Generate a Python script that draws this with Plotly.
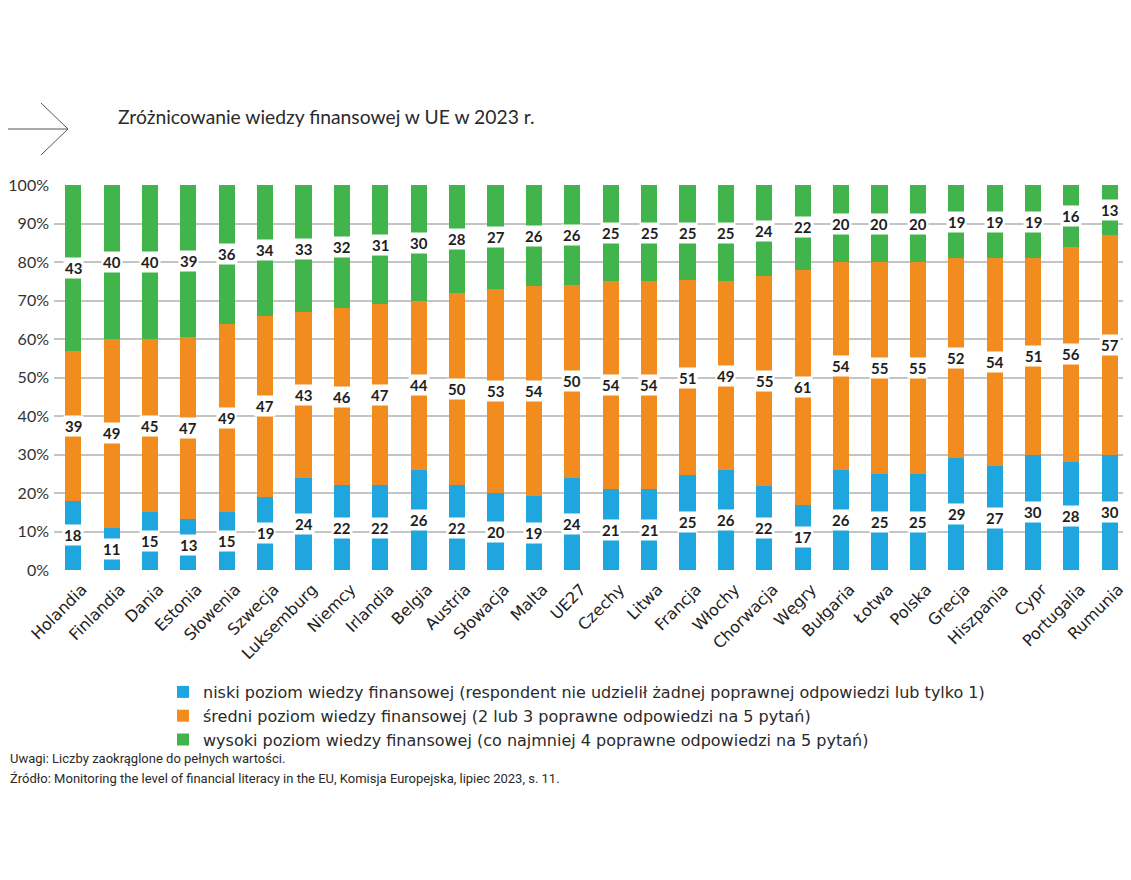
import plotly.graph_objects as go

countries = ["Holandia", "Finlandia", "Dania", "Estonia", "Słowenia", "Szwecja", "Luksemburg",
             "Niemcy", "Irlandia", "Belgia", "Austria", "Słowacja", "Malta", "UE27", "Czechy",
             "Litwa", "Francja", "Włochy", "Chorwacja", "Węgry", "Bułgaria", "Łotwa", "Polska",
             "Grecja", "Hiszpania", "Cypr", "Portugalia", "Rumunia"]
low = [18, 11, 15, 13, 15, 19, 24, 22, 22, 26, 22, 20, 19, 24, 21, 21, 25, 26, 22, 17, 26, 25, 25, 29, 27, 30, 28, 30]
mid = [39, 49, 45, 47, 49, 47, 43, 46, 47, 44, 50, 53, 54, 50, 54, 54, 51, 49, 55, 61, 54, 55, 55, 52, 54, 51, 56, 57]
high = [43, 40, 40, 39, 36, 34, 33, 32, 31, 30, 28, 27, 26, 26, 25, 25, 25, 25, 24, 22, 20, 20, 20, 19, 19, 19, 16, 13]
series_names = [
    "niski poziom wiedzy finansowej (respondent nie udzielił żadnej poprawnej odpowiedzi lub tylko 1)",
    "średni poziom wiedzy finansowej (2 lub 3 poprawne odpowiedzi na 5 pytań)",
    "wysoki poziom wiedzy finansowej (co najmniej 4 poprawne odpowiedzi na 5 pytań)",
]
colors = ["#1fa6df", "#f28c1f", "#41b54b"]
yticks = [0, 10, 20, 30, 40, 50, 60, 70, 80, 90, 100]

OFF = 8  # page body margin
FW, FH = 1131 - OFF, 880 - OFF
L, T, W, H = 54 - OFF, 185 - OFF, 1075, 385  # plot area in figure pixels


def px_x(x):  # reference picture x -> paper
    return (x - OFF - L) / W


def px_y(y):  # reference picture y -> paper
    return (T + H - (y - OFF)) / H


fig = go.Figure()
for name, vals, col in zip(series_names, [low, mid, high], colors):
    fig.add_trace(go.Bar(x=countries, y=vals, name=name, marker=dict(color=col, line=dict(width=0)),
                         hoverinfo="x+y"))

# value labels with white boxes at segment centres (stack normalised to 100%)
annotations = []
for i, c in enumerate(countries):
    total = low[i] + mid[i] + high[i]
    base = 0
    for vals in (low, mid, high):
        v = vals[i]
        annotations.append(dict(x=c, y=(base + v / 2) * 100 / total, xref="x", yref="y",
                                text=f"<b>{v}</b>", showarrow=False, bgcolor="white", borderpad=1,
                                font=dict(family="Lato", size=15, color="#1e1e1e")))
        base += v

note_font = dict(family="Liberation Sans Narrow, Roboto", size=13, color="#2a2a2a")
annotations += [
    dict(text="Zróżnicowanie wiedzy finansowej w UE w 2023 r.", xref="paper", yref="paper",
         x=px_x(116), y=px_y(116), xanchor="left", yanchor="middle",
         showarrow=False, font=dict(family="Lato", size=19.3, color="#2a2a2a")),
    dict(text="Uwagi: Liczby zaokrąglone do pełnych wartości.", xref="paper", yref="paper",
         x=px_x(8), y=px_y(758), xanchor="left", yanchor="middle", showarrow=False, font=note_font),
    dict(text="Źródło: Monitoring the level of financial literacy in the EU, Komisja Europejska, lipiec 2023, s. 11.",
         xref="paper", yref="paper", x=px_x(8), y=px_y(778), xanchor="left",
         yanchor="middle", showarrow=False, font=note_font),
]

shapes = [
    dict(type="line", xref="paper", yref="paper", x0=px_x(8), x1=px_x(68),
         y0=px_y(129), y1=px_y(129), line=dict(color="#555", width=1)),
    dict(type="path", xref="paper", yref="paper",
         path=f"M {px_x(41)},{px_y(103)} L {px_x(68)},{px_y(129)} L {px_x(41)},{px_y(155)}",
         line=dict(color="#555", width=1)),
]

fig.update_layout(
    barmode="stack",
    barnorm="percent",
    bargap=0.58,
    width=FW, height=FH,
    margin=dict(l=L, r=FW - L - W, t=T, b=FH - T - H, autoexpand=False),
    plot_bgcolor="white", paper_bgcolor="white",
    showlegend=True,
    legend=dict(x=px_x(163), y=px_y(675), xanchor="left", yanchor="top", traceorder="normal",
                font=dict(family="DejaVu Sans", size=16, color="#2a2a2a"),
                itemwidth=30, tracegroupgap=0, bgcolor="rgba(0,0,0,0)"),
    annotations=annotations,
    shapes=shapes,
    xaxis=dict(tickangle=-45, tickfont=dict(family="DejaVu Sans", size=16, color="#222"),
               showgrid=False, zeroline=False, ticks="", showline=False, automargin=False,
               ticklabelshift=9, ticklabelstandoff=6),
    yaxis=dict(range=[0, 100], tickvals=yticks, ticktext=[f"{t}%" for t in yticks],
               tickfont=dict(family="Lato", size=16, color="#333"),
               showgrid=True, gridcolor="#c4c4c4", gridwidth=2, zeroline=False,
               ticks="", ticklabelstandoff=4, automargin=False),
)

fig.write_html("out.html")
